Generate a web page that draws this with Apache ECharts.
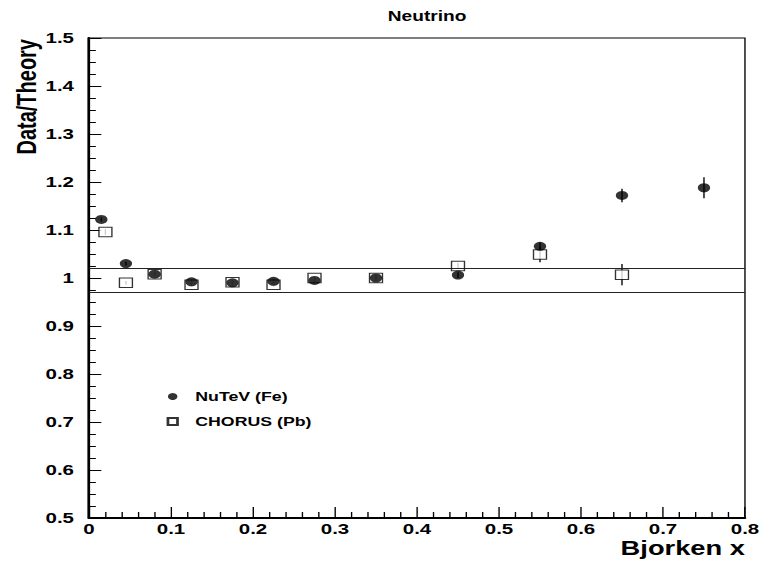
<!DOCTYPE html>
<html>
<head>
<meta charset="utf-8">
<script src="https://cdn.jsdelivr.net/npm/echarts@6/dist/echarts.min.js"></script>
<style>
  html, body { margin: 0; padding: 0; background: #fff; overflow: hidden; }
  /* square canvas, stretched horizontally to the page width */
  #chart { width: 561px; height: 561px; transform: scaleX(1.36542); transform-origin: 0 0; }
</style>
</head>
<body>
<div id="chart"></div>
<script>
// NuTeV (Fe) neutrino structure-function ratios
var nutevX   = [0.015, 0.045, 0.08, 0.125, 0.175, 0.225, 0.275, 0.35, 0.45, 0.55, 0.65, 0.75];
var nutevY   = [1.122, 1.030, 1.008, 0.992, 0.990, 0.993, 0.995, 1.000, 1.006, 1.066, 1.172, 1.188];
var nutevErr = [0.004, 0.004, 0.004, 0.004, 0.004, 0.004, 0.004, 0.005, 0.006, 0.008, 0.014, 0.022];

// CHORUS (Pb) neutrino structure-function ratios
var chorusX   = [0.02, 0.045, 0.08, 0.125, 0.175, 0.225, 0.275, 0.35, 0.45, 0.55, 0.65];
var chorusY   = [1.096, 0.990, 1.008, 0.986, 0.991, 0.986, 1.000, 1.000, 1.025, 1.049, 1.007];
var chorusErr = [0.006, 0.004, 0.004, 0.004, 0.004, 0.004, 0.004, 0.005, 0.006, 0.016, 0.022];

// reference band drawn as two horizontal lines
var bandLines = [1.025, 0.975];

var seriesNames = ['NuTeV (Fe)', 'CHORUS (Pb)'];
var FONT = "'Liberation Sans', Arial, Helvetica, sans-serif";

function points(xs, ys) {
  return xs.map(function (x, i) { return [x, ys[i]]; });
}
function errorBars(xs, ys, es) {
  return xs.map(function (x, i) { return [x, ys[i] - es[i], ys[i] + es[i]]; });
}
function renderErrorBar(params, api) {
  var x = api.value(0);
  var lo = api.coord([x, api.value(1)]);
  var hi = api.coord([x, api.value(2)]);
  return {
    type: 'line',
    shape: { x1: lo[0], y1: lo[1], x2: hi[0], y2: hi[1] },
    style: { stroke: '#000', lineWidth: 1 }
  };
}

var chart = echarts.init(document.getElementById('chart'), null, { renderer: 'svg' });

chart.setOption({
  animation: false,
  backgroundColor: '#fff',
  title: {
    text: 'Neutrino',
    left: 284,
    top: 9,
    padding: 0,
    textStyle: { fontFamily: FONT, fontSize: 14, fontWeight: 'bold', color: '#000' }
  },
  legend: {
    orient: 'vertical',
    left: 122,
    top: 390,
    itemWidth: 7,
    itemHeight: 7,
    itemGap: 12,
    padding: 0,
    data: [
      { name: seriesNames[0], icon: 'circle' },
      { name: seriesNames[1], icon: 'rect' }
    ],
    textStyle: { fontFamily: FONT, fontSize: 13, fontWeight: 'bold', color: '#000', padding: [0, 0, 0, 8] }
  },
  grid: {
    left: 65.2,
    right: 15.4,
    top: 38,
    bottom: 43,
    outerBoundsMode: 'none',
    containLabel: false,
    show: true,
    borderColor: '#000',
    borderWidth: 1,
    backgroundColor: 'transparent'
  },
  xAxis: {
    type: 'value',
    min: 0,
    max: 0.8,
    interval: 0.1,
    name: 'Bjorken x',
    nameLocation: 'end',
    nameGap: 0,
    nameMoveOverlap: false,
    nameTextStyle: {
      fontFamily: FONT, fontSize: 20, fontWeight: 'bold', color: '#000',
      align: 'right', verticalAlign: 'top', lineHeight: 20, padding: [20, 0, 0, 0]
    },
    axisLine: { onZero: false, lineStyle: { color: '#000', width: 2 } },
    axisTick: { inside: true, length: 11, lineStyle: { color: '#000', width: 1 } },
    minorTick: { show: true, splitNumber: 5, length: 6, lineStyle: { color: '#000', width: 1 } },
    splitLine: { show: false },
    axisLabel: { fontFamily: FONT, fontSize: 15, fontWeight: 'bold', color: '#000', margin: 4, lineHeight: 13 }
  },
  yAxis: {
    type: 'value',
    min: 0.5,
    max: 1.5,
    interval: 0.1,
    name: 'Data/Theory',
    nameLocation: 'end',
    nameGap: -1,
    nameRotate: 90,
    nameMoveOverlap: false,
    nameTextStyle: {
      fontFamily: FONT, fontSize: 20, fontWeight: 'bold', color: '#000',
      align: 'right', verticalAlign: 'bottom', padding: [0, 0, 36, 0]
    },
    axisLine: { onZero: false, lineStyle: { color: '#000', width: 2 } },
    axisTick: { inside: true, length: 9, lineStyle: { color: '#000', width: 1 } },
    minorTick: { show: true, splitNumber: 4, length: 5, lineStyle: { color: '#000', width: 1 } },
    splitLine: { show: false },
    axisLabel: { fontFamily: FONT, fontSize: 15, fontWeight: 'bold', color: '#000', margin: 11 }
  },
  series: [
    {
      name: seriesNames[0] + ' errors',
      type: 'custom',
      renderItem: renderErrorBar,
      encode: { x: 0, y: [1, 2] },
      data: errorBars(nutevX, nutevY, nutevErr),
      z: 1,
      silent: true
    },
    {
      name: seriesNames[1] + ' errors',
      type: 'custom',
      renderItem: renderErrorBar,
      encode: { x: 0, y: [1, 2] },
      data: errorBars(chorusX, chorusY, chorusErr),
      z: 1,
      silent: true
    },
    {
      name: seriesNames[1],
      type: 'scatter',
      symbol: 'rect',
      symbolSize: [9.5, 9.5],
      itemStyle: { color: '#fff', borderColor: '#000', borderWidth: 1 },
      data: points(chorusX, chorusY),
      z: 2,
      markLine: {
        silent: true,
        symbol: 'none',
        label: { show: false },
        lineStyle: { color: '#222', width: 1, type: 'solid' },
        data: bandLines.map(function (v) { return { yAxis: v }; })
      }
    },
    {
      name: seriesNames[0],
      type: 'scatter',
      symbol: 'circle',
      symbolSize: 9,
      itemStyle: { color: '#000' },
      data: points(nutevX, nutevY),
      z: 3
    }
  ]
});
</script>
</body>
</html>
